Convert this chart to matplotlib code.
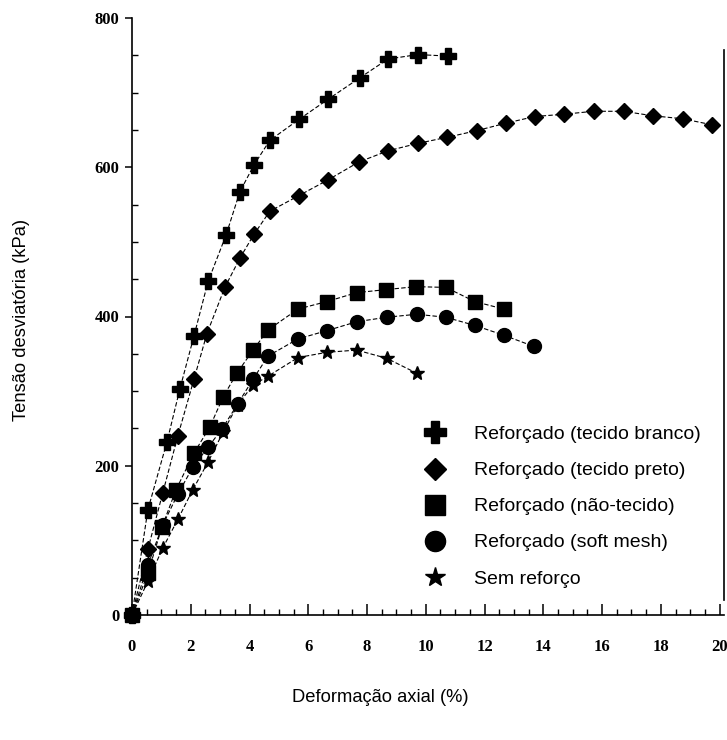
import matplotlib
matplotlib.use("Agg")
import matplotlib.pyplot as plt
from matplotlib.lines import Line2D
from matplotlib.ticker import MultipleLocator

# Data (axial strain %, deviator stress kPa)
x_branco = [0, 0.54, 1.19, 1.63, 2.11, 2.59, 3.2, 3.67, 4.15, 4.69, 5.68, 6.67, 7.76, 8.71, 9.73, 10.75]
y_branco = [0, 141, 232, 303, 374, 447, 509, 567, 603, 636, 664, 691, 720, 745, 751, 749]

x_preto = [0, 0.54, 1.05, 1.56, 2.11, 2.55, 3.16, 3.67, 4.15, 4.69, 5.68, 6.67, 7.72, 8.71, 9.73,
           10.71, 11.73, 12.72, 13.71, 14.69, 15.71, 16.73, 17.72, 18.74, 19.73]
y_preto = [0, 88, 164, 240, 316, 377, 439, 478, 510, 541, 562, 583, 607, 622, 632,
           640, 649, 659, 668, 671, 675, 675, 669, 665, 657]

x_naotecido = [0, 0.54, 1.02, 1.50, 2.11, 2.65, 3.10, 3.57, 4.12, 4.63, 5.65, 6.63, 7.65, 8.64, 9.66, 10.68, 11.67, 12.65]
y_naotecido = [0, 56, 118, 168, 217, 252, 292, 324, 355, 382, 410, 420, 432, 436, 440, 439, 420, 410]

x_soft = [0, 0.54, 1.05, 1.56, 2.07, 2.59, 3.06, 3.6, 4.12, 4.63, 5.65, 6.63, 7.65, 8.67, 9.69, 10.68, 11.67, 12.65, 13.67]
y_soft = [0, 67, 121, 162, 198, 225, 249, 283, 316, 347, 370, 381, 393, 399, 403, 399, 388, 375, 360]

x_sem = [0, 0.54, 1.05, 1.56, 2.07, 2.59, 3.1, 3.6, 4.12, 4.63, 5.65, 6.63, 7.65, 8.67, 9.69]
y_sem = [0, 45, 90, 128, 168, 205, 245, 282, 308, 320, 345, 352, 355, 344, 324]

labels = ["Reforçado (tecido branco)", "Reforçado (tecido preto)",
          "Reforçado (não-tecido)", "Reforçado (soft mesh)", "Sem reforço"]
x_ticks = [0, 2, 4, 6, 8, 10, 12, 14, 16, 18, 20]
y_ticks = [0, 200, 400, 600, 800]

fig = plt.figure(figsize=(7.27, 7.40), dpi=100)
ax = fig.add_axes([132/727, 1-615/740, (724-132)/727, (615-18)/740])

series = [
    (x_branco, y_branco, 'P', 11),
    (x_preto, y_preto, 'D', 8),
    (x_naotecido, y_naotecido, 's', 10),
    (x_soft, y_soft, 'o', 10),
    (x_sem, y_sem, '*', 10),
]
for (xs, ys, m, ms) in series:
    ax.plot(xs, ys, color='black', linestyle=(0, (4, 2)), linewidth=0.8,
            marker=m, markersize=ms, markerfacecolor='black', markeredgecolor='black',
            clip_on=False, zorder=3)

ax.set_xlim(0, 20.15)
ax.set_ylim(0, 800)
ax.set_xticks(x_ticks)
ax.set_yticks(y_ticks)
ax.xaxis.set_minor_locator(MultipleLocator(0.5))
ax.yaxis.set_minor_locator(MultipleLocator(50))
ax.spines['top'].set_visible(False)
ax.spines['right'].set_bounds(20, 757)
for s in ['left', 'bottom', 'right']:
    ax.spines[s].set_linewidth(1.2)
ax.tick_params(axis='x', which='major', direction='in', length=8, width=1.1, pad=17)
ax.tick_params(axis='x', which='minor', direction='in', length=4, width=1.0)
ax.tick_params(axis='y', which='major', direction='out', length=5, width=1.1, pad=4)
ax.tick_params(axis='y', which='minor', direction='in', length=4, width=1.0)
for lab in ax.get_xticklabels() + ax.get_yticklabels():
    lab.set_fontfamily('Liberation Serif')
    lab.set_fontsize(12)
    lab.set_fontweight('bold')

fig.text(22/727, 1-320/740, "Tensão desviatória (kPa)", rotation=90, ha='center', va='center',
         fontsize=13.2, family='Liberation Sans')
fig.text(380/727, 1-698/740, "Deformação axial (%)", ha='center', va='center',
         fontsize=13.2, family='Liberation Sans')

handles = [Line2D([], [], linestyle='none', marker=m, markersize=ms*1.45, color='black')
           for (_, _, m, ms) in series]
ax.legend(handles, labels, loc='upper left', bbox_to_anchor=(412/727, 1-412/740),
          bbox_transform=fig.transFigure, frameon=False, prop={'family': 'Liberation Sans', 'size': 14},
          labelspacing=0.95, handletextpad=1.5, handlelength=1.0, borderpad=0.2)

fig.savefig("out.png", dpi=100)
